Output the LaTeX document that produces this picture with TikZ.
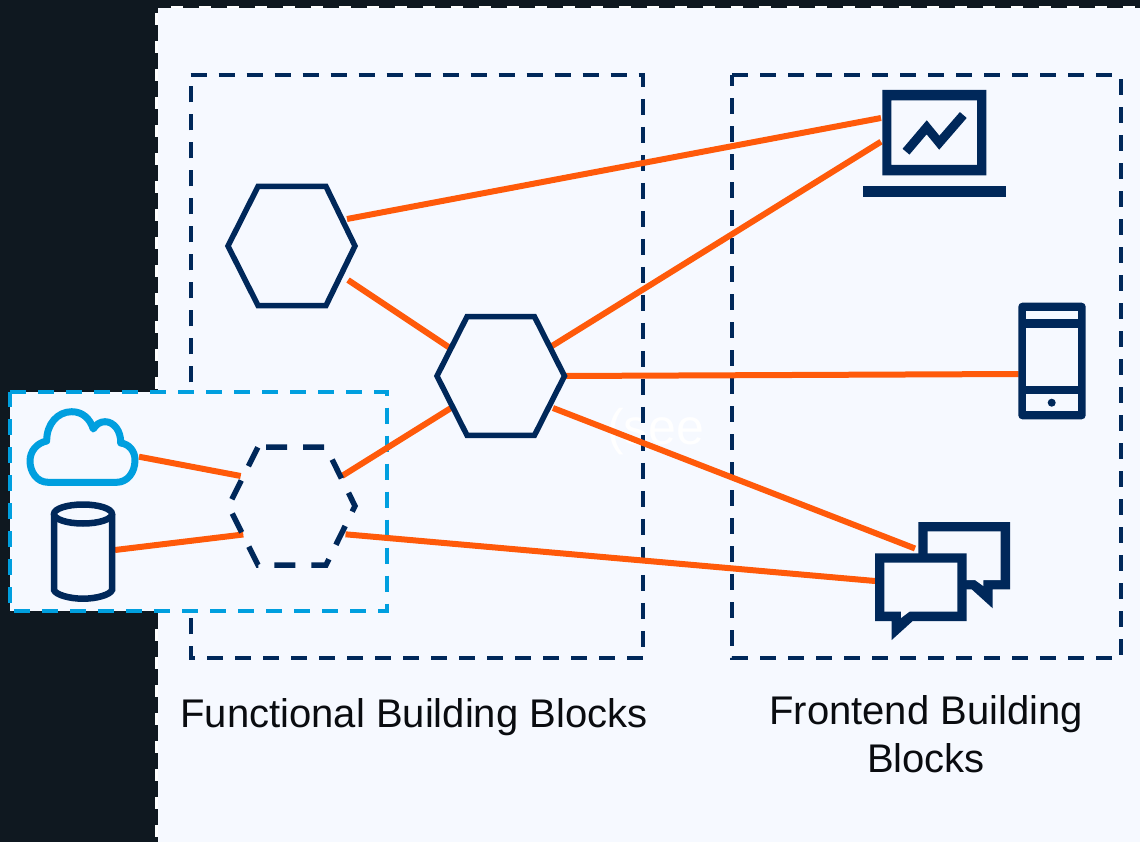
\documentclass[tikz,border=0pt]{standalone}
\usepackage{fontspec}
\setmainfont{Liberation Sans}
\definecolor{darkbg}{HTML}{0F1820}
\definecolor{panel}{HTML}{F6F9FF}
\definecolor{navy}{HTML}{00285A}
\definecolor{orangeline}{HTML}{FF5A0A}
\definecolor{cyanline}{HTML}{009FDF}
\definecolor{captiontext}{HTML}{0A0C10}
\tikzset{
  blockframe/.style={draw=navy,line width=4pt,dash pattern=on 16pt off 12pt},
  cyanframe/.style={draw=cyanline,fill=panel,line width=4pt,dash pattern=on 16pt off 12pt},
  whiteedge/.style={draw=white,line width=2.5pt,dash pattern=on 12pt off 16pt},
  hexa/.style={draw=navy,line width=5.5pt,miter limit=10},
  hexadash/.style={draw=navy,line width=5.5pt,dash pattern=on 21pt off 16pt,dash phase=29pt},
  link/.style={draw=orangeline,line width=6pt},
  iconfill/.style={fill=navy,draw=none},
  iconhole/.style={fill=panel,draw=none},
  caption/.style={text=captiontext,font=\fontsize{40}{48}\selectfont,align=center,inner sep=0pt},
}
\begin{document}
\begin{tikzpicture}[x=1pt,y=-1pt]
\useasboundingbox (0,0) rectangle (1140,842);
\fill[darkbg] (0,0) rectangle (1140,842);
\fill[panel] (157.7,7.7) rectangle (1140,842);
\draw[whiteedge] (156.5,13.3) -- (156.5,842);
\draw[whiteedge] (171,6.8) -- (1140,6.8);

% faint text
\node[text=white,font=\fontsize{50}{60}\selectfont,anchor=base west,inner sep=0pt] (seetext) at (607,444) {(see};

% frames
\draw[blockframe] (190.7,75.5) -- (643.3,75.5) -- (643.3,658.3) -- (190.7,658.3) -- cycle;
\draw[blockframe] (732.3,75.5) -- (1120.7,75.5) -- (1120.7,658.3) -- (732.3,658.3) -- cycle;
\draw[cyanframe] (10,392.3) -- (386.7,392.3) -- (386.7,610.7) -- (10,610.7) -- cycle;

% connector ends
\coordinate (h1a) at (347,219);
\coordinate (h1b) at (348,280);
\coordinate (h2a) at (450,348);
\coordinate (h2b) at (552,346);
\coordinate (h2c) at (565,376);
\coordinate (h2d) at (553,408);
\coordinate (h2e) at (451,408);
\coordinate (h3a) at (342,476);
\coordinate (h3b) at (240.7,476);
\coordinate (h3c) at (243.3,534.5);
\coordinate (h3d) at (345.5,534.3);
\coordinate (lap1) at (881,118);
\coordinate (lap2) at (881,141.7);
\coordinate (phone) at (1018.5,374);
\coordinate (chat1) at (915,548.5);
\coordinate (chat2) at (875,581);
\coordinate (cloud) at (139,456.7);
\coordinate (cyl) at (115,550);

\draw[link] (h1a) -- (lap1);
\draw[link] (h2b) -- (lap2);
\draw[link] (h1b) -- (h2a);
\draw[link] (h2c) -- (phone);
\draw[link] (h2d) -- (chat1);
\draw[link] (h3a) -- (h2e);
\draw[link] (cloud) -- (h3b);
\draw[link] (cyl) -- (h3c);
\draw[link] (h3d) -- (chat2);

% hexagons
\draw[hexa] (228,246) -- (258,186.5) -- (326,186.5) -- (355,246) -- (326,305.5) -- (258,305.5) -- cycle;
\draw[hexa] (437,376) -- (467,316.7) -- (534.5,316.7) -- (564.5,376) -- (534.5,435.3) -- (467,435.3) -- cycle;
\draw[hexadash] (258,447) -- (326,447) -- (355,506) -- (326,565) -- (258,565) -- (228.5,506) -- cycle;

% cloud
\draw[cyanline,line width=7pt,line join=round]
  (48,482.3) .. controls (37,482.3) and (30,472) .. (30,461)
  .. controls (30,451) and (37,443) .. (46.7,441)
  .. controls (46.5,424) and (57.7,411.7) .. (71.7,411.7)
  .. controls (83,411.7) and (90,419) .. (93.3,429)
  .. controls (96,424.5) and (100,421.7) .. (105,421.7)
  .. controls (114,421.7) and (121,431) .. (120.7,443)
  .. controls (129,444) and (135,451) .. (135,460)
  .. controls (135,473) and (127,482.3) .. (116.7,482.3) -- cycle;

% cylinder
\draw[navy,line width=6.5pt] (54,514) -- (54,590) .. controls (56,595) and (70,598.7) .. (83,598.7) .. controls (96,598.7) and (110,595) .. (112,590) -- (112,514);
\draw[navy,line width=6.5pt] (83,514) ellipse [x radius=29,y radius=9.5];

% laptop
\fill[iconfill,even odd rule] (882.3,90) rectangle (986.3,175.3) (891.3,100.3) rectangle (977,165);
\fill[iconfill] (863.3,186) rectangle (1005.7,196.7);
\draw[navy,line width=9pt,miter limit=10] (906,151.7) -- (926.7,127.3) -- (939.3,142.7) -- (963.3,115);

% phone
\fill[iconfill,rounded corners=4pt] (1018.3,302.7) rectangle (1085.7,419.3);
\fill[iconhole] (1026,311) rectangle (1078,319.3);
\fill[iconhole] (1026,327.7) rectangle (1078,386);
\fill[iconhole] (1026,394.3) rectangle (1078,411);
\fill[iconfill] (1051.7,402.7) circle (4);

% chat back
\fill[iconfill] (918.3,522) -- (1010,522) -- (1010,589.3) -- (992.7,589.3) -- (992.7,608.3) -- (971.7,589.3) -- (918.3,589.3) -- cycle;
\fill[iconhole] (927.7,531.3) -- (1000.7,531.3) -- (1000.7,580) -- (983.3,580) -- (983.3,586) -- (975,580) -- (927.7,580) -- cycle;
% chat front
\fill[iconfill] (875,553.3) -- (966.7,553.3) -- (966.7,621) -- (912.7,621) -- (891.7,640) -- (891.7,621) -- (875,621) -- cycle;
\fill[iconhole] (884.3,562.7) -- (957.3,562.7) -- (957.3,611.7) -- (909.3,611.7) -- (901,618) -- (901,611.7) -- (884.3,611.7) -- cycle;

% captions
\node[caption,anchor=base] (functional) at (414,727) {Functional Building Blocks};
\node[caption,anchor=base] (frontend) at (926,724) {Frontend Building};
\node[caption,anchor=base] (blocks) at (926,772) {Blocks};
\end{tikzpicture}
\end{document}
